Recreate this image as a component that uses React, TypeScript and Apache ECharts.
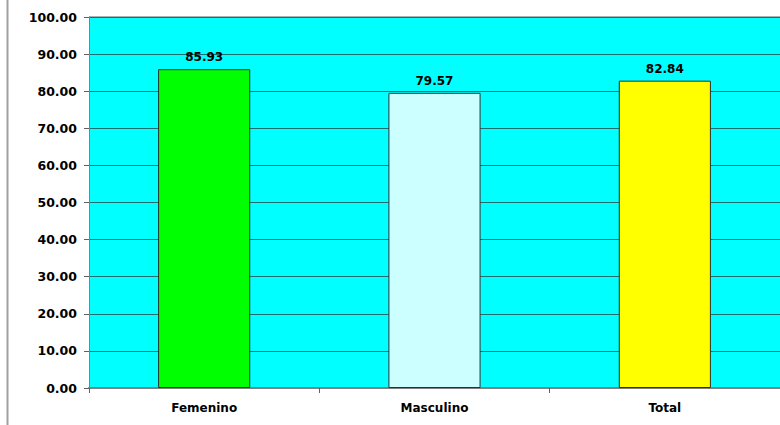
import React, { useEffect, useRef } from "react";
import * as echarts from "echarts";

const categories = ["Femenino", "Masculino", "Total"];
const values = [85.93, 79.57, 82.84];
const barColors = ["#00FF00", "#CCFFFF", "#FFFF00"];

const FONT = "'DejaVu Sans', Verdana, sans-serif";

export default function App() {
  const ref = useRef<HTMLDivElement>(null);

  useEffect(() => {
    if (!ref.current) return;
    const chart = echarts.init(ref.current, undefined, { renderer: "svg" });
    chart.setOption({
      animation: false,
      backgroundColor: "#FFFFFF",
      grid: {
        left: 89,
        top: 17,
        width: 694,
        height: 371,
        show: true,
        backgroundColor: "#00FFFF",
        borderWidth: 0,
      },
      xAxis: {
        type: "category",
        data: categories,
        boundaryGap: true,
        axisLine: { lineStyle: { color: "#808080", width: 2 } },
        axisTick: { show: true, length: 5, lineStyle: { color: "#606060" } },
        axisLabel: {
          margin: 14,
          color: "#000000",
          fontFamily: FONT,
          fontWeight: "bold",
          fontSize: 12,
        },
      },
      yAxis: {
        type: "value",
        min: 0,
        max: 100,
        interval: 10,
        axisLine: { show: true, lineStyle: { color: "#808080", width: 1 } },
        axisTick: { show: true, length: 5, lineStyle: { color: "#606060" } },
        axisLabel: {
          margin: 12,
          color: "#000000",
          fontFamily: FONT,
          fontWeight: "bold",
          fontSize: 12.5,
          formatter: (v: number) => v.toFixed(2),
        },
        splitLine: { show: true, lineStyle: { color: "#1E6E6E", width: 1 } },
      },
      series: [
        {
          type: "bar",
          data: values.map((v, i) => ({
            value: v,
            itemStyle: { color: barColors[i] },
          })),
          barWidth: "40%",
          itemStyle: { borderColor: "#2E2E2E", borderWidth: 1 },
          label: {
            show: true,
            position: "top",
            distance: 6,
            color: "#000000",
            fontFamily: FONT,
            fontWeight: "bold",
            fontSize: 12,
            formatter: (p: any) => Number(p.value).toFixed(2),
          },
        },
      ],
      graphic: [
        {
          type: "line",
          shape: { x1: 7.5, y1: 0, x2: 7.5, y2: 425 },
          style: { stroke: "#A0A0A0", lineWidth: 2 },
        },
        {
          type: "line",
          shape: { x1: 89, y1: 16.5, x2: 780, y2: 16.5 },
          style: { stroke: "#B0B0B0", lineWidth: 1 },
        },
      ],
    });
    return () => chart.dispose();
  }, []);

  return (
    <div
      ref={ref}
      style={{ position: "fixed", left: 0, top: 0, width: 780, height: 425 }}
    />
  );
}
